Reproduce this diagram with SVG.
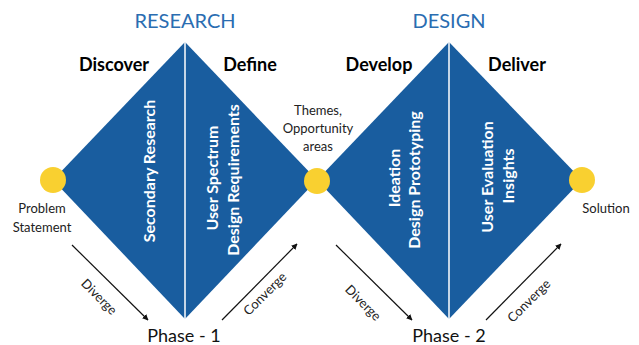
<svg xmlns="http://www.w3.org/2000/svg" width="639" height="345" viewBox="0 0 639 345">
<style>
  .dia{fill:#195d9f}
  .div{stroke:#ffffff;stroke-width:1.5}
  .dot{fill:#f9d030}
  .head{font-family:Lato,"Open Sans",sans-serif;font-size:20px;fill:#2a6db1;text-anchor:middle}
  .stage{font-family:Lato,"Open Sans",sans-serif;font-size:18px;font-weight:bold;fill:#000;text-anchor:middle}
  .inner{font-family:Lato,"Open Sans",sans-serif;font-size:16px;font-weight:bold;fill:#fff;text-anchor:middle}
  .lbl{font-family:Lato,"Open Sans",sans-serif;font-size:13px;fill:#222;text-anchor:middle}
  .phase{font-family:Lato,"Open Sans",sans-serif;font-size:18px;fill:#111;text-anchor:middle}
  .arr{stroke:#111;stroke-width:1.2;fill:none;marker-end:url(#ah)}
</style>
<defs>
  <marker id="ah" viewBox="0 0 10 10" refX="9" refY="5" markerWidth="6" markerHeight="6" orient="auto" markerUnits="userSpaceOnUse">
    <path d="M0,0 L10,5 L0,10 z" fill="#111"/>
  </marker>
</defs>
<rect width="639" height="345" fill="#fff"/>
<text class="head" x="185" y="28">RESEARCH</text>
<text class="head" x="449" y="28">DESIGN</text>
<g id="diamond-research">
  <polygon class="dia" points="185,42 317,180 185,319 53,180"/>
  <line class="div" x1="185" y1="42" x2="185" y2="319"/>
  <text class="stage" x="114" y="71">Discover</text>
  <text class="stage" x="250" y="71">Define</text>
  <text class="inner" transform="translate(155,171) rotate(-90)">Secondary Research</text>
  <text class="inner" transform="translate(218,178) rotate(-90)">User Spectrum</text>
  <text class="inner" transform="translate(239,180) rotate(-90)">Design Requirements</text>
</g>
<g id="diamond-design">
  <polygon class="dia" points="449,42 582,180 449,319 317,180"/>
  <line class="div" x1="449" y1="42" x2="449" y2="319"/>
  <text class="stage" x="379" y="71">Develop</text>
  <text class="stage" x="517" y="71">Deliver</text>
  <text class="inner" transform="translate(400,178) rotate(-90)">Ideation</text>
  <text class="inner" transform="translate(420,180) rotate(-90)">Design Prototyping</text>
  <text class="inner" transform="translate(493,177) rotate(-90)">User Evaluation</text>
  <text class="inner" transform="translate(514,176) rotate(-90)">Insights</text>
</g>
<g id="problem">
  <circle class="dot" cx="53" cy="180" r="13"/>
  <text class="lbl" x="42" y="213">Problem</text>
  <text class="lbl" x="42" y="232">Statement</text>
</g>
<g id="themes">
  <circle class="dot" cx="317" cy="181" r="13"/>
  <text class="lbl" x="318" y="115">Themes,</text>
  <text class="lbl" x="318" y="133">Opportunity</text>
  <text class="lbl" x="318" y="151">areas</text>
</g>
<g id="solution">
  <circle class="dot" cx="582" cy="180" r="13"/>
  <text class="lbl" x="606" y="213">Solution</text>
</g>
<g id="phase1"><text class="phase" x="184" y="342">Phase - 1</text></g>
<g id="phase2"><text class="phase" x="449" y="342">Phase - 2</text></g>
<g id="connectors">
  <line class="arr" x1="72" y1="245" x2="148" y2="320"/>
  <line class="arr" x1="222" y1="320" x2="297" y2="244"/>
  <line class="arr" x1="336" y1="245" x2="412" y2="320"/>
  <line class="arr" x1="486" y1="320" x2="561" y2="244"/>
  <text class="lbl" transform="translate(96,300) rotate(45)">Diverge</text>
  <text class="lbl" transform="translate(268,297) rotate(-45)">Converge</text>
  <text class="lbl" transform="translate(360,306) rotate(45)">Diverge</text>
  <text class="lbl" transform="translate(532,304) rotate(-45)">Converge</text>
</g>
</svg>
